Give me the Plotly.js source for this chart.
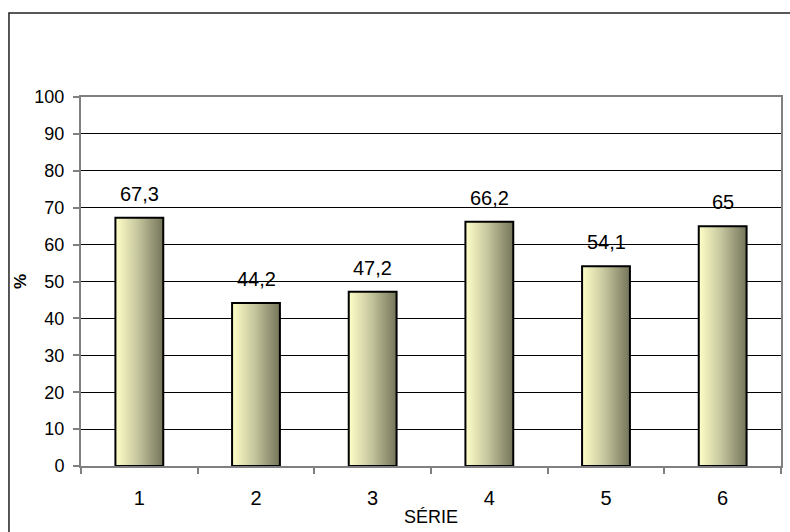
<!DOCTYPE html>
<html>
<head>
<meta charset="utf-8">
<script src="https://cdn.plot.ly/plotly-3.0.1.min.js"></script>
<style>
html,body{margin:0;padding:0;background:#fff;}
#chart{width:790px;height:532px;}
</style>
</head>
<body>
<div id="chart"></div>
<script>
const categories = ['1', '2', '3', '4', '5', '6'];
const values = [67.3, 44.2, 47.2, 66.2, 54.1, 65];
const yTickValues = [0, 10, 20, 30, 40, 50, 60, 70, 80, 90, 100];
const xTitle = 'SÉRIE';
const yTitle = '%';

const FONT = 'Liberation Sans, Arial, sans-serif';

const trace = {
  type: 'bar',
  x: categories,
  y: values,
  width: 0.41,
  marker: {color: '#c8c8a0', line: {color: '#000', width: 2}},
  hoverinfo: 'none'
};

// value labels above bars, positioned through the axes' scales
// (on a category axis, annotation x is the category's index)
const labelAnnotations = categories.map(function (c, i) {
  return {
    x: categories.indexOf(c), y: values[i], xref: 'x', yref: 'y',
    text: String(values[i]).replace('.', ','),
    showarrow: false, yanchor: 'bottom', yshift: 11,
    font: {family: FONT, size: 20, color: '#000'}
  };
});

const layout = {
  width: 790, height: 532,
  margin: {l: 81, r: 9, t: 97, b: 66},
  paper_bgcolor: '#fff',
  plot_bgcolor: '#fff',
  separators: ', ',
  showlegend: false,
  font: {family: FONT, size: 18, color: '#000'},
  xaxis: {
    type: 'category',
    range: [-0.5, categories.length - 0.5],
    showline: true, mirror: true, linecolor: '#808080', linewidth: 2,
    ticks: 'outside', tickson: 'boundaries', ticklen: 6, tickcolor: '#808080', tickwidth: 2,
    ticklabelstandoff: 13,
    showgrid: false, zeroline: false,
    tickfont: {family: FONT, size: 20, color: '#000'},
    title: {text: xTitle, font: {family: FONT, size: 18, color: '#000'}, standoff: 2}
  },
  yaxis: {
    range: [0, 100], tickvals: yTickValues,
    showline: true, mirror: true, linecolor: '#808080', linewidth: 2,
    ticks: 'outside', ticklen: 6, tickcolor: '#808080', tickwidth: 2,
    ticklabelstandoff: 5,
    showgrid: true, gridcolor: '#000', gridwidth: 1, zeroline: false,
    tickfont: {family: FONT, size: 18, color: '#000'},
    title: {text: '<b>' + yTitle + '</b>', font: {family: FONT, size: 17, color: '#000'}, standoff: 3}
  },
  annotations: labelAnnotations,
  shapes: [{
    type: 'rect', xref: 'paper', yref: 'paper',
    x0: -0.1029, x1: 1.05, y0: -0.3, y1: 1.2276,
    line: {color: '#222', width: 1.5}, layer: 'below'
  }]
};

Plotly.newPlot('chart', [trace], layout, {staticPlot: true}).then(function (gd) {
  const svg = gd.querySelector('.main-svg');
  const defs = svg.querySelector('defs');
  const ns = 'http://www.w3.org/2000/svg';
  const grad = document.createElementNS(ns, 'linearGradient');
  grad.setAttribute('id', 'barGrad');
  grad.setAttribute('x1', '0'); grad.setAttribute('y1', '0');
  grad.setAttribute('x2', '1'); grad.setAttribute('y2', '0');
  [['0', '#ffffc8'], ['0.45', '#c8c8a0'], ['1', '#74745a']].forEach(function (s) {
    const st = document.createElementNS(ns, 'stop');
    st.setAttribute('offset', s[0]);
    st.setAttribute('stop-color', s[1]);
    grad.appendChild(st);
  });
  defs.appendChild(grad);
  gd.querySelectorAll('.bars .point path').forEach(function (p) {
    p.style.fill = 'url(#barGrad)';
  });
});
</script>
</body>
</html>
